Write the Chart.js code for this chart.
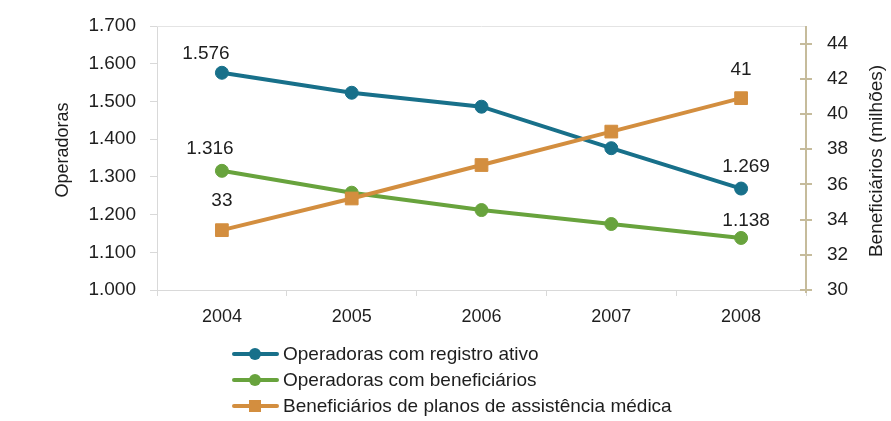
<!DOCTYPE html>
<html>
<head>
<meta charset="utf-8">
<script src="https://cdn.jsdelivr.net/npm/chart.js@4.4.1/dist/chart.umd.min.js"></script>
<style>
  html, body { margin: 0; padding: 0; background: #ffffff; }
  #wrap { width: 891px; height: 421px; position: relative; }
</style>
</head>
<body>
<div id="wrap"><canvas id="c" width="891" height="421"></canvas></div>
<script>
// ---- data ----
const categories = ['2004', '2005', '2006', '2007', '2008'];
const operadorasAtivas = [1576, 1523, 1486, 1376, 1269];
const operadorasBenef = [1316, 1258, 1212, 1175, 1138];
const beneficiarios = [33.4, 35.2, 37.1, 39.0, 40.9];
const labelsAtivas = ['1.576', null, null, null, '1.269'];
const labelsBenef = ['1.316', null, null, null, '1.138'];
const labelsBeneficiarios = ['33', null, null, null, '41'];
const leftTicks = [1000, 1100, 1200, 1300, 1400, 1500, 1600, 1700];
const leftTickLabels = ['1.000', '1.100', '1.200', '1.300', '1.400', '1.500', '1.600', '1.700'];
const rightTicks = [30, 32, 34, 36, 38, 40, 42, 44];
const rightTickLabels = ['30', '32', '34', '36', '38', '40', '42', '44'];
const seriesNames = ['Operadoras com registro ativo', 'Operadoras com beneficiários', 'Beneficiários de planos de assistência médica'];
const leftTitle = 'Operadoras';
const rightTitle = 'Beneficiários (milhões)';

// ---- styles ----
const BLUE = '#18708a', GREEN = '#68a33d', ORANGE = '#d38e3f';
const AXISGRAY = '#d9d9d9', TAN = '#c6bc9c', TEXT = '#1e1e1e';
const FONT = "'Liberation Sans', Arial, sans-serif";

// label offsets (dx, dy) per dataset
const labelOffsets = [
  [[-16, -19], null, null, null, [5, -22]],
  [[-12, -22], null, null, null, [5, -17]],
  [[0, -29], null, null, null, [0, -28]]
];
const datasetLabels = [labelsAtivas, labelsBenef, labelsBeneficiarios];

const decorPlugin = {
  id: 'decor',
  beforeDatasetsDraw(chart) {
    const { ctx, chartArea: a } = chart;
    ctx.save();
    ctx.strokeStyle = '#e4e4e4';
    ctx.lineWidth = 1;
    ctx.beginPath();
    ctx.moveTo(a.left, a.top + 0.5);
    ctx.lineTo(a.right, a.top + 0.5);
    ctx.stroke();
    const yR = chart.scales.y1;
    ctx.strokeStyle = TAN;
    ctx.lineWidth = 2;
    ctx.beginPath();
    ctx.moveTo(a.right, a.top);
    ctx.lineTo(a.right, a.bottom + 3);
    ctx.stroke();
    rightTicks.forEach(v => {
      const y = Math.round(yR.getPixelForValue(v));
      ctx.beginPath();
      ctx.moveTo(a.right - 6, y);
      ctx.lineTo(a.right + 6, y);
      ctx.stroke();
    });
    ctx.restore();
  },
  afterDraw(chart) {
    const { ctx } = chart;
    ctx.save();
    ctx.fillStyle = TEXT;
    ctx.font = '19px ' + FONT;
    ctx.textAlign = 'center';
    ctx.textBaseline = 'middle';
    chart.data.datasets.forEach((ds, di) => {
      const meta = chart.getDatasetMeta(di);
      const lbls = datasetLabels[ds.srcIndex];
      meta.data.forEach((pt, i) => {
        if (!lbls[i]) return;
        const off = labelOffsets[ds.srcIndex][i];
        ctx.fillText(lbls[i], pt.x + off[0], pt.y + off[1]);
      });
    });
    ctx.font = '18px ' + FONT;
    ctx.save();
    ctx.translate(63, 150);
    ctx.rotate(-Math.PI / 2);
    ctx.fillText(leftTitle, 0, 0);
    ctx.restore();
    ctx.font = '19px ' + FONT;
    ctx.save();
    ctx.translate(877, 161);
    ctx.rotate(-Math.PI / 2);
    ctx.fillText(rightTitle, 0, 0);
    ctx.restore();
    const ordered = [...chart.data.datasets].sort((p, q) => p.srcIndex - q.srcIndex);
    const rowY = [354, 380, 406];
    ordered.forEach((ds, k) => {
      const y = rowY[k];
      ctx.strokeStyle = ds.borderColor;
      ctx.lineWidth = 4;
      ctx.lineCap = 'round';
      ctx.beginPath();
      ctx.moveTo(234, y);
      ctx.lineTo(277, y);
      ctx.stroke();
      ctx.fillStyle = ds.borderColor;
      if (ds.pointStyle === 'rect') {
        ctx.fillRect(249, y - 6, 12, 12);
      } else {
        ctx.beginPath();
        ctx.arc(255, y, 6, 0, Math.PI * 2);
        ctx.fill();
      }
      ctx.fillStyle = TEXT;
      ctx.font = '19px ' + FONT;
      ctx.textAlign = 'left';
      ctx.textBaseline = 'middle';
      ctx.fillText(ds.label, 283, y + 1);
    });
    ctx.restore();
  }
};

const lineCommon = {
  borderWidth: 4,
  pointBorderWidth: 1,
  tension: 0,
  fill: false
};

function noPad(s) { s.paddingTop = 0; s.paddingBottom = 0; s.paddingLeft = 0; s.paddingRight = 0; }

new Chart(document.getElementById('c'), {
  type: 'line',
  data: {
    labels: categories,
    datasets: [
      Object.assign({}, lineCommon, {
        label: seriesNames[2], data: beneficiarios, yAxisID: 'y1', srcIndex: 2,
        borderColor: ORANGE, backgroundColor: ORANGE, pointBackgroundColor: ORANGE, pointBorderColor: ORANGE,
        pointStyle: 'rect', pointRadius: 9, order: 0
      }),
      Object.assign({}, lineCommon, {
        label: seriesNames[0], data: operadorasAtivas, yAxisID: 'y', srcIndex: 0,
        borderColor: BLUE, backgroundColor: BLUE, pointBackgroundColor: BLUE, pointBorderColor: BLUE,
        pointStyle: 'circle', pointRadius: 6.5, order: 1
      }),
      Object.assign({}, lineCommon, {
        label: seriesNames[1], data: operadorasBenef, yAxisID: 'y', srcIndex: 1,
        borderColor: GREEN, backgroundColor: GREEN, pointBackgroundColor: GREEN, pointBorderColor: GREEN,
        pointStyle: 'circle', pointRadius: 6.5, order: 2
      })
    ]
  },
  options: {
    responsive: false,
    animation: false,
    devicePixelRatio: 1,
    layout: { padding: { top: 26, left: 0, right: 0, bottom: 0 } },
    plugins: { legend: { display: false }, tooltip: { enabled: false } },
    scales: {
      x: {
        offset: true,
        grid: { offset: true, drawOnChartArea: false, drawTicks: true, tickLength: 6, color: AXISGRAY },
        border: { color: AXISGRAY, width: 1 },
        ticks: { font: { family: FONT, size: 18 }, color: TEXT, padding: 10, maxRotation: 0 },
        afterFit(s) { s.height = 131; noPad(s); }
      },
      y: {
        position: 'left',
        min: 1000, max: 1700,
        afterBuildTicks(s) { s.ticks = leftTicks.map(v => ({ value: v })); },
        grid: { drawOnChartArea: false, drawTicks: true, tickLength: 7, color: AXISGRAY },
        border: { color: AXISGRAY, width: 1 },
        ticks: {
          font: { family: FONT, size: 19 }, color: TEXT, padding: 14,
          callback(v) { const i = leftTicks.indexOf(v); return i >= 0 ? leftTickLabels[i] : ''; }
        },
        afterFit(s) { s.width = 157; noPad(s); }
      },
      y1: {
        position: 'right',
        min: 30, max: 45,
        afterBuildTicks(s) { s.ticks = rightTicks.map(v => ({ value: v })); },
        grid: { display: false, drawTicks: false, tickLength: 0 },
        border: { display: false },
        ticks: {
          font: { family: FONT, size: 19 }, color: TEXT, padding: 21,
          callback(v) { const i = rightTicks.indexOf(v); return i >= 0 ? rightTickLabels[i] : ''; }
        },
        afterFit(s) { s.width = 85; noPad(s); }
      }
    }
  },
  plugins: [decorPlugin]
});
</script>
</body>
</html>
